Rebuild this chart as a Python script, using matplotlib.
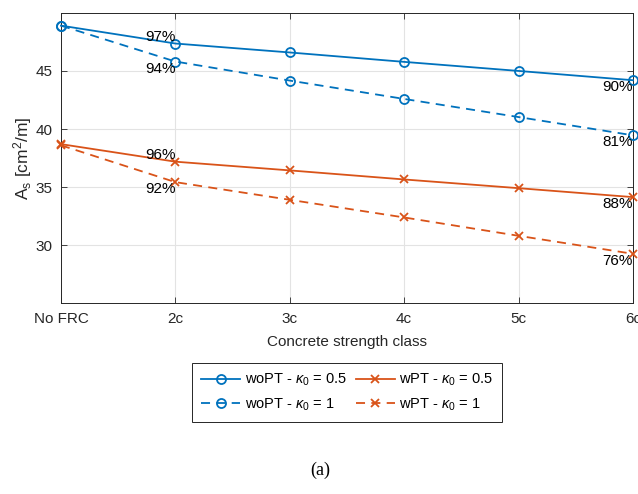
import matplotlib
matplotlib.use("Agg")
import matplotlib.pyplot as plt
import numpy as np

plt.rcParams['font.family'] = ['Liberation Sans', 'DejaVu Sans']
plt.rcParams['mathtext.fontset'] = 'custom'
plt.rcParams['mathtext.rm'] = 'Liberation Sans'
plt.rcParams['mathtext.it'] = 'Liberation Sans:italic'

classes = ["No FRC", "2c", "3c", "4c", "5c", "6c"]
wopt_05 = [48.9, 47.36, 46.59, 45.78, 45.0, 44.2]
wopt_1 = [48.9, 45.81, 44.17, 42.59, 41.03, 39.46]
wpt_05 = [38.7, 37.19, 36.44, 35.66, 34.91, 34.14]
wpt_1 = [38.6, 35.43, 33.91, 32.39, 30.81, 29.26]

blue = "#0072BD"
orange = "#D95319"
axc = "#262626"

x = np.arange(len(classes))

fig = plt.figure(figsize=(6.38, 4.94), dpi=100)
ax = fig.add_axes([0.0956, 0.386, 0.8965, 0.588])

series = [
    (wopt_05, blue, "o", "-", r"woPT - $\kappa_0$ = 0.5"),
    (wopt_1, blue, "o", "--", r"woPT - $\kappa_0$ = 1"),
    (wpt_05, orange, "x", "-", r"wPT - $\kappa_0$ = 0.5"),
    (wpt_1, orange, "x", "--", r"wPT - $\kappa_0$ = 1"),
]
for vals, col, mk, ls, lab in series:
    ms = 6.5 if mk == "o" else 5.5
    line, = ax.plot(x, vals, color=col, marker=mk, ls=ls, lw=1.3, ms=ms,
                    mfc="none", mew=1.3, label=lab, clip_on=False, zorder=3)
    if ls == "--":
        line.set_dashes((5, 3.5))

# percentage labels relative to "No FRC"
def pct(vals, i):
    return f"{round(100 * vals[i] / vals[0]):d}%"

ax.text(x[1], wopt_05[1], pct(wopt_05, 1), ha="right", va="bottom", fontsize=11)
ax.text(x[1], wopt_1[1], pct(wopt_1, 1), ha="right", va="top", fontsize=11)
ax.text(x[1], wpt_05[1], pct(wpt_05, 1), ha="right", va="bottom", fontsize=11)
ax.text(x[1], wpt_1[1], pct(wpt_1, 1), ha="right", va="top", fontsize=11)
for vals in (wopt_05, wopt_1, wpt_05, wpt_1):
    ax.text(x[-1], vals[-1], pct(vals, -1), ha="right", va="top", fontsize=11)

ax.set_xlim(0, len(classes) - 1)
ax.set_ylim(25, 50)
ax.set_xticks(x)
ax.set_xticklabels(classes)
ax.set_yticks([30, 35, 40, 45])
ax.grid(True, color="#e3e3e3", lw=0.8)
ax.set_axisbelow(True)
ax.tick_params(direction="in", top=True, right=True, length=4, width=0.6,
               colors=axc, labelsize=11, pad=6)
for s in ax.spines.values():
    s.set_color(axc)
    s.set_linewidth(0.7)

ax.set_xlabel("Concrete strength class", fontsize=11, color=axc, labelpad=7)
ax.set_ylabel(r"A$_\mathrm{s}$ [cm$^2$/m]", fontsize=12.5, color=axc, labelpad=1)

leg = fig.legend(loc="center", bbox_to_anchor=(0.544, 0.2055), ncol=2,
                 fontsize=10.5, handlelength=2.7, columnspacing=0.6,
                 handletextpad=0.3, borderpad=0.6, labelspacing=0.55,
                 fancybox=False, framealpha=1, edgecolor=axc)
leg.get_frame().set_linewidth(0.7)

fig.text(0.502, 0.048, "(a)", ha="center", va="center", fontsize=13,
         family="Liberation Serif")

fig.savefig("out.png", dpi=100)
